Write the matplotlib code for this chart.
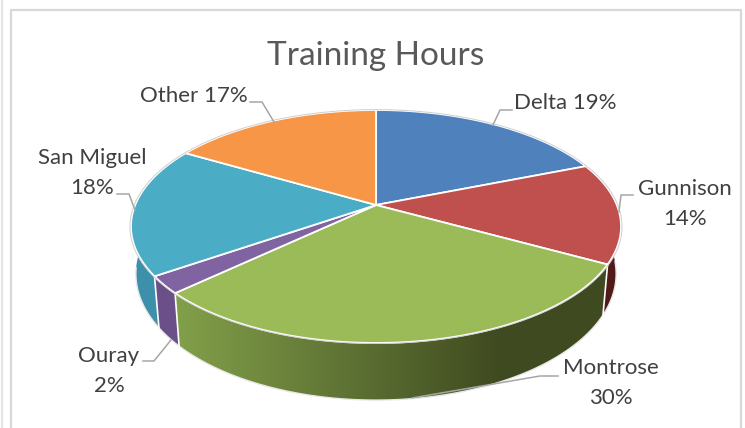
import numpy as np
from matplotlib import pyplot as plt
from matplotlib.colors import to_rgb
from matplotlib.patches import Polygon

# Chart data
categories = ['Delta', 'Gunnison', 'Montrose', 'Ouray', 'San Miguel', 'Other']
hours = [19.0, 14.0, 30.0, 2.4, 18.0, 16.6]
top_colors = ['#4f81bd', '#c0504d', '#9bbb59', '#8064a2', '#4bacc6', '#f79646']
wall_start = ['#2a4466', '#4f1a18', '#82a04a', '#6a4f88', '#3d90aa', '#b06a28']
wall_end = ['#2a4466', '#4f1a18', '#3f4a20', '#6a4f88', '#3d90aa', '#b06a28']

# Label text position, alignment and leader line for each slice
label_text = ['Delta 19%', 'Gunnison\n14%', 'Montrose\n30%', 'Ouray\n2%', 'San Miguel\n18%', 'Other 17%']
label_pos = [(565, 103), (685, 204), (611, 383), (109, 371), (92, 173), (194, 96)]
leaders = [[(512, 110), (500, 110), (493, 125)],
           [(633, 195), (621, 195), (619, 212)],
           [(558, 376), (540, 376), (412, 398)],
           [(143, 361), (154, 361), (171, 340)],
           [(117, 194), (129, 194), (135, 210)],
           [(250, 102), (262, 102), (274, 122)]]

GREY = '#d9d9d9'
FONT = 'Lato'

# Perspective of the top and bottom disc, in pixels
CX = 376
TOP_Y = 205
BOT_Y = 250.5
TOP_A = 240.8
TOP_B = 112.5
BOT_A = 236.0
BOT_B = 122.0
K = 0.1845


def rim(theta, a, b, y0):
    # theta is clockwise from 12 o'clock, in radians
    u = np.sin(theta)
    v = np.cos(theta)
    w = 1 + K * v
    return CX + a * u / w, y0 - b * v / w


fig = plt.figure(figsize=(7.45, 4.28), dpi=100)
ax = fig.add_axes([0, 0, 1, 1])

# Chart frame
ax.plot([2, 2], [0, 428], color='#e4e4e4', lw=1.5)
ax.plot([11, 11, 741, 741], [428, 10, 10, 428], color=GREY, lw=1.6)

edges = np.radians(np.concatenate([[0], np.cumsum(hours)]) * 3.6)

# Walls: a horizontal gradient clipped to the shape of each slice
xs = np.arange(745)
shade = np.clip((xs - 175) / 325, 0, 1)[None, :, None]
for i in range(len(hours)):
    th = np.linspace(edges[i], edges[i + 1], 120)
    x_t, y_t = rim(th, TOP_A, TOP_B, TOP_Y)
    x_b, y_b = rim(th, BOT_A, BOT_B, BOT_Y)
    shape = Polygon(np.c_[np.r_[x_t, x_b[::-1]], np.r_[y_t, y_b[::-1]]], closed=True, transform=ax.transData,
                    facecolor='none', edgecolor='none')
    ax.add_patch(shape)
    c0 = np.array(to_rgb(wall_start[i]))
    c1 = np.array(to_rgb(wall_end[i]))
    im = ax.imshow(c0 + (c1 - c0) * shade, extent=(0, 745, 428, 0), aspect='auto', zorder=2)
    im.set_clip_path(shape)

# Outline under the walls and white seams between them
th = np.radians(np.linspace(95, 262, 300))
x_b, y_b = rim(th, BOT_A, BOT_B, BOT_Y)
ax.plot(x_b, y_b, color='#e8e8e8', lw=1.0, zorder=3)
for i in range(1, len(hours)):
    if np.cos(edges[i]) < 0:
        x0, y0 = rim(edges[i], TOP_A, TOP_B, TOP_Y)
        x1, y1 = rim(edges[i], BOT_A, BOT_B, BOT_Y)
        ax.plot([x0, x1], [y0, y1], color='white', lw=1.2, zorder=3)

# Top face
for i in range(len(hours)):
    th = np.linspace(edges[i], edges[i + 1], 150)
    x_t, y_t = rim(th, TOP_A, TOP_B, TOP_Y)
    ax.fill(np.r_[CX, x_t], np.r_[TOP_Y, y_t], facecolor=top_colors[i], edgecolor='white', lw=1.3,
            joinstyle='miter', zorder=4)

th = np.linspace(0, 2 * np.pi, 500)
x_t, y_t = rim(th, TOP_A + 1, TOP_B + 0.5, TOP_Y)
ax.plot(x_t, y_t, color='#cfcfcf', lw=0.7, zorder=5)

# Title, labels and leader lines
ax.text(376, 56, 'Training Hours', fontsize=24, color='#595959', family=FONT, ha='center', va='center', zorder=6)
for i in range(len(categories)):
    ax.text(label_pos[i][0], label_pos[i][1], label_text[i], fontsize=16, color='#404040', family=FONT,
            ha='center', va='center', linespacing=1.6, zorder=6)
    pts = np.array(leaders[i])
    ax.plot(pts[:, 0], pts[:, 1], color='#a6a6a6', lw=1.1, zorder=6)

ax.set_xlim(0, 745)
ax.set_ylim(428, 0)
ax.axis('off')

plt.savefig('out.png', dpi=100)
